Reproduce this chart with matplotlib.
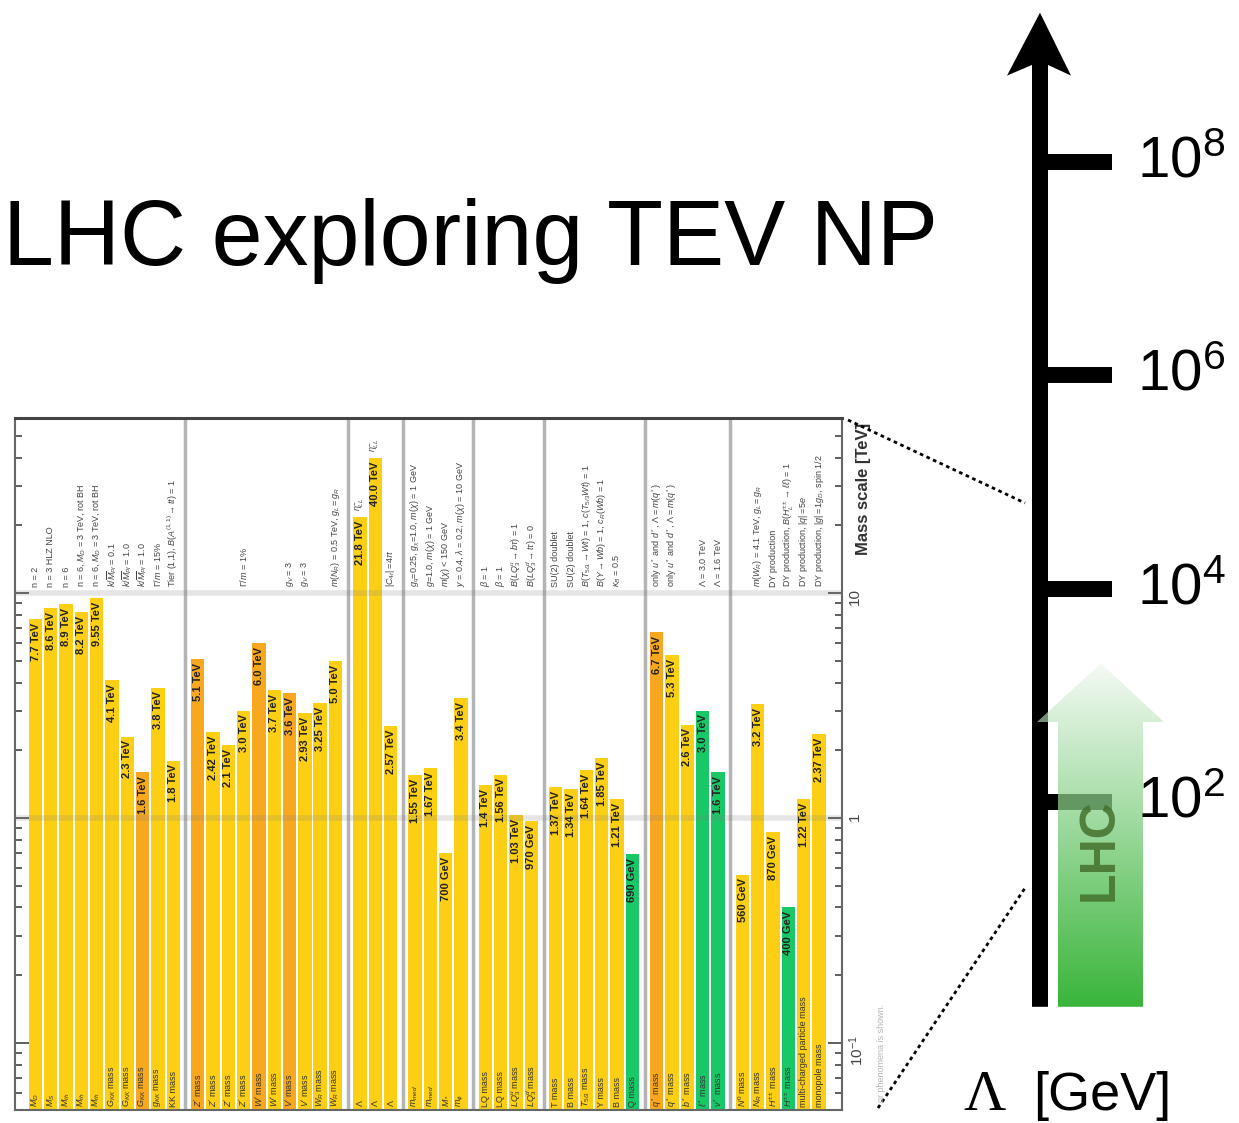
import numpy as np
import matplotlib.pyplot as plt
from matplotlib.patches import Polygon

plt.rcParams['font.family'] = ['Liberation Sans', 'DejaVu Sans']
plt.rcParams['mathtext.fontset'] = 'custom'
plt.rcParams['mathtext.rm'] = 'Liberation Sans'
plt.rcParams['mathtext.it'] = 'Liberation Sans:italic'
plt.rcParams['mathtext.bf'] = 'Liberation Sans:bold'

# --- data: exclusion limits (TeV) ---
group_sizes = [10, 10, 3, 4, 4, 6, 5, 6]

limits = [7.7, 8.6, 8.9, 8.2, 9.55, 4.1, 2.3, 1.6, 3.8, 1.8,
          5.1, 2.42, 2.1, 3.0, 6.0, 3.7, 3.6, 2.93, 3.25, 5.0,
          21.8, 40.0, 2.57,
          1.55, 1.67, 0.70, 3.4,
          1.4, 1.56, 1.03, 0.97,
          1.37, 1.34, 1.64, 1.85, 1.21, 0.69,
          6.7, 5.3, 2.6, 3.0, 1.6,
          0.56, 3.2, 0.87, 0.40, 1.22, 2.37]

# y = yellow, o = orange, g = green
bar_kind = ("yyyyyyyoyy" "oyyyoyoyyy" "yyy" "yyyy" "yyyy" "yyyyyg" "oyygg" "yyygyy")

bar_names = [r'$M_D$', r'$M_S$', r'$M_{th}$', r'$M_{th}$', r'$M_{th}$',
             r'$G_{KK}$ mass', r'$G_{KK}$ mass', r'$G_{KK}$ mass', r'$g_{KK}$ mass', 'KK mass',
             r"$Z'$ mass", r"$Z'$ mass", r"$Z'$ mass", r"$Z'$ mass", r"$W'$ mass",
             r"$W'$ mass", r"$V'$ mass", r"$V'$ mass", r'$W_R$ mass', r'$W_R$ mass',
             r'$\Lambda$', r'$\Lambda$', r'$\Lambda$',
             r'$m_{med}$', r'$m_{med}$', r'$M_*$', r'$m_\phi$',
             'LQ mass', 'LQ mass', r'$LQ_3^u$ mass', r'$LQ_3^d$ mass',
             'T mass', 'B mass', r'$T_{5/3}$ mass', 'Y mass', 'B mass', 'Q mass',
             r'$q^*$ mass', r'$q^*$ mass', r'$b^*$ mass', r'$\ell^*$ mass', r'$\nu^*$ mass',
             r'$N^0$ mass', r'$N_R$ mass', r'$H^{\pm\pm}$ mass', r'$H^{\pm\pm}$ mass',
             'multi-charged particle mass', 'monopole mass']

conditions = ['n = 2', 'n = 3 HLZ NLO', 'n = 6',
              r'n = 6, $M_D$ = 3 TeV, rot BH', r'n = 6, $M_D$ = 3 TeV, rot BH',
              r'$k/\overline{M}_{Pl}$ = 0.1', r'$k/\overline{M}_{Pl}$ = 1.0',
              r'$k/\overline{M}_{Pl}$ = 1.0', r'$\Gamma/m$ = 15%',
              r'Tier (1,1), $B(A^{(1,1)} \to tt)$ = 1',
              None, None, None, r'$\Gamma/m$ = 1%', None, None,
              r'$g_V$ = 3', r'$g_V$ = 3', None, r'$m(N_R)$ = 0.5 TeV, $g_L = g_R$',
              r'$\eta_{LL}^{-}$', r'$\eta_{LL}^{-}$', r'$|C_{4t}| = 4\pi$',
              r'$g_q$=0.25, $g_\chi$=1.0, $m(\chi)$ = 1 GeV', r'$g$=1.0, $m(\chi)$ = 1 GeV',
              r'$m(\chi)$ < 150 GeV', r'$y$ = 0.4, $\lambda$ = 0.2, $m(\chi)$ = 10 GeV',
              r'$\beta$ = 1', r'$\beta$ = 1', r'$B(LQ_3^u \to b\tau)$ = 1',
              r'$B(LQ_3^d \to t\tau)$ = 0',
              'SU(2) doublet', 'SU(2) doublet',
              r'$B(T_{5/3} \to Wt)$ = 1, $c(T_{5/3}Wt)$ = 1',
              r'$B(Y \to Wb)$ = 1, $c_R(Wb)$ = 1', r'$\kappa_B$ = 0.5', None,
              r'only $u^*$ and $d^*$, $\Lambda = m(q^*)$',
              r'only $u^*$ and $d^*$, $\Lambda = m(q^*)$', None,
              r'$\Lambda$ = 3.0 TeV', r'$\Lambda$ = 1.6 TeV',
              None, r'$m(W_R)$ = 4.1 TeV, $g_L = g_R$', 'DY production',
              r'DY production, $B(H_L^{\pm\pm} \to \ell\ell)$ = 1',
              r'DY production, $|q| = 5e$', r'DY production, $|g| = 1g_D$, spin 1/2']

# energy-scale arrow: decades of Lambda [GeV] that get a tick
scale_exps = [2, 4, 6, 8]

kind_color = {'y': '#fccf14', 'o': '#f7a81e', 'g': '#18c866'}

W, H = 1239, 1123
fig = plt.figure(figsize=(W / 100, H / 100), dpi=100)


def px_axes(l, t, r, b):
    return fig.add_axes([l / W, 1 - b / H, (r - l) / W, (b - t) / H])


def fmt(v):
    if v < 1:
        return f'{v * 1000:.0f} GeV'
    s = f'{v:g}'
    if '.' not in s:
        s += '.0'
    return s + ' TeV'


# --- the rotated summary plot ---
ax = px_axes(15, 418, 842, 1110)
gap = 0.6
x = []
seps = []
pos = 0.0
for gi, n in enumerate(group_sizes):
    for k in range(n):
        x.append(pos)
        pos += 1
    if gi < len(group_sizes) - 1:
        seps.append(pos - 0.5 + gap / 2)
    pos += gap
x = np.array(x)
vals = np.array(limits)

base = 0.01
ax.set_yscale('log')
ax.bar(x, vals - base, bottom=base, width=0.87,
       color=[kind_color[k] for k in bar_kind], edgecolor='none', zorder=2)
for s in seps:
    ax.axvline(s, color='#b4b4b4', lw=2.5, zorder=1)
for g in (1, 10):
    ax.axhline(g, color='gray', lw=4, alpha=0.2, zorder=3)

for xi, v, nm, cond in zip(x, vals, bar_names, conditions):
    ax.text(xi, v / 1.04, fmt(v), rotation=90, ha='center', va='top',
            fontsize=8, fontweight='bold', color='#222222', zorder=4)
    ax.text(xi, 0.052, nm, rotation=90, ha='center', va='bottom',
            fontsize=6.5, color='#333333', zorder=4)
    if cond:
        ax.text(xi, max(v, 10) * 1.06, cond, rotation=90, ha='center', va='bottom',
                fontsize=6.5, color='#444444', zorder=4)

ax.set_xlim(x[0] - 1.34, x[-1] + 1.5)
ax.set_ylim(0.0503, 60)
ax.set_xticks([])
ax.set_yticks([0.1, 1, 10])
ax.set_yticklabels([r'$10^{-1}$', '1', '10'])
ax.tick_params(axis='y', which='both', direction='in', left=True, right=True,
               labelleft=False, labelright=True, labelrotation=90,
               color='#444444', width=1.2, pad=4, labelsize=11, labelcolor='#444444')
ax.tick_params(axis='y', which='major', length=10)
ax.tick_params(axis='y', which='minor', length=5)
for sp in ax.spines.values():
    sp.set_color('#666666')
    sp.set_linewidth(1.5)
ax.spines['top'].set_color('#444444')
ax.spines['top'].set_linewidth(2.2)
ax.text(1.017, 0.993, 'Mass scale [TeV]', transform=ax.transAxes, rotation=90,
        ha='left', va='top', fontsize=12, fontweight='bold', color='#333333')

# --- energy scale arrow (y in log10 of Lambda/GeV) ---
# tick 10^2 sits at pixel row 802, tick 10^8 at row 162
px_per_decade = (802 - 162) / 6
sax = fig.add_axes([0, 0, 1, 1])
sax.axis('off')
ylo = 2 - (H - 802) / px_per_decade
yhi = 8 + 162 / px_per_decade

big = Polygon([(1032, 0.08), (1048, 0.08), (1048, 8.91), (1071, 8.81), (1040, 9.40),
               (1007, 8.81), (1032, 8.91)], closed=True, color='black', lw=0, zorder=2)
sax.add_patch(big)
sax.hlines(scale_exps, 1040, 1112, color='black', lw=11.5, capstyle='butt', zorder=2)
for e in scale_exps:
    sax.text(1137, e, rf'$10^{{{e}}}$', fontsize=42, ha='left', va='center', zorder=5)

lhc_top = 3.30
lhc_head = 2.75
green = Polygon([(1058, 0.08), (1143, 0.08), (1143, lhc_head), (1164, lhc_head),
                 (1101, lhc_top), (1037, lhc_head), (1058, lhc_head)], closed=True,
                facecolor='none', edgecolor='none')
sax.add_patch(green)
t = np.linspace(0, 1, 256)[:, None]
over_white = (1 - t) * np.array([57, 181, 58]) + t * np.array([245, 250, 245])
alpha = 1 - 0.45 * t
rgb = 255 - (255 - over_white) / alpha
grad = np.clip(np.concatenate([rgb / 255, alpha], axis=1)[:, None, :], 0, 1)
im = sax.imshow(grad, extent=(1037, 1164, 0.08, lhc_top), origin='lower',
                aspect='auto', zorder=3)
im.set_clip_path(green)
sax.text(1100, 1.55, 'LHC', rotation=90, fontsize=36, fontweight='bold',
         color='#44702c', alpha=0.85, ha='center', va='center', zorder=4)
sax.set_xlim(0, W)
sax.set_ylim(ylo, yhi)

# --- overlay: title, zoom lines, axis name ---
ov = fig.add_axes([0, 0, 1, 1])
ov.set_xlim(0, W)
ov.set_ylim(H, 0)
ov.axis('off')
ov.text(3, 265, 'LHC exploring TEV NP', fontsize=66, ha='left', va='baseline')
ov.plot([848, 1025], [420, 503], color='black', lw=2, ls=(0, (1.3, 1.3)))
ov.plot([878, 1025], [1108, 888], color='black', lw=2, ls=(0, (1.3, 1.3)))
ov.text(963, 1110, 'Λ', family=['Liberation Serif', 'DejaVu Serif'], fontsize=42,
        ha='left', va='baseline')
ov.text(1033, 1110, '[GeV]', fontsize=39, ha='left', va='baseline')
ov.text(882, 1004, 'or phenomena is shown.',
        rotation=90, ha='center', va='top', fontsize=6.5, color='#b5b5b5')

fig.savefig('out.png', dpi=100)
